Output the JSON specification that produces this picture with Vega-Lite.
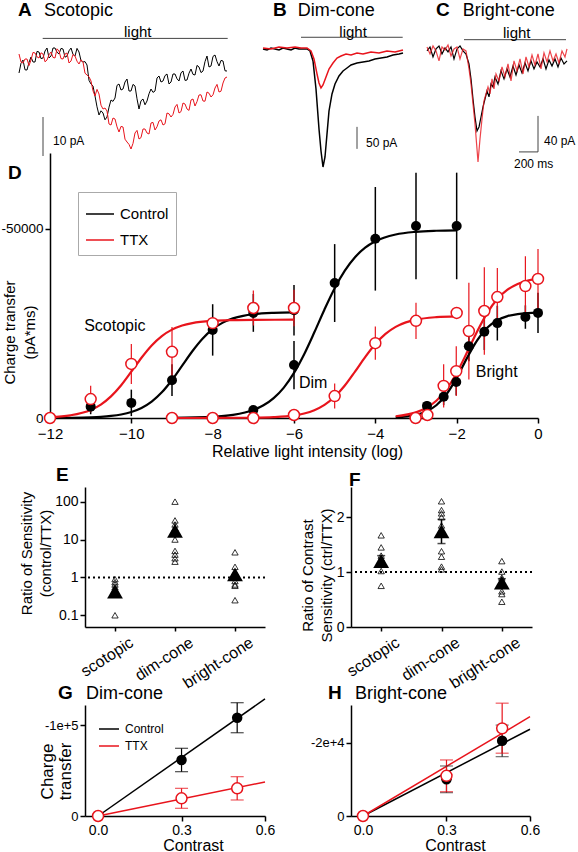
{
"$schema":"https://vega.github.io/schema/vega-lite/v6.json",
"padding":0,
"background":"white",
"config":{
 "view":{"stroke":null},
 "font":"Liberation Sans",
 "axis":{"domainColor":"black","domainWidth":1.5,"tickColor":"black","tickWidth":1.5,"tickSize":5,"labelColor":"black","titleColor":"black","labelFont":"Liberation Sans","titleFont":"Liberation Sans","titleFontWeight":"normal","grid":false,"labelFontSize":14,"titleFontSize":15,"labelFlush":false},
 "title":{"font":"Liberation Sans","fontSize":19,"fontWeight":"bold","anchor":"start","frame":"group","color":"black"},
 "legend":{"labelFont":"Liberation Sans","labelColor":"black"},
 "text":{"font":"Liberation Sans","color":"black"}
},
"datasets":{
 "trA":[
  {"c":"Control","t":-240,"i":-2.25},{"c":"Control","t":-200,"i":1},{"c":"Control","t":-160,"i":-1.5},{"c":"Control","t":-120,"i":1.75},{"c":"Control","t":-80,"i":0.5},{"c":"Control","t":-40,"i":3},{"c":"Control","t":0,"i":1.5},{"c":"Control","t":40,"i":4},{"c":"Control","t":80,"i":2},{"c":"Control","t":120,"i":4},{"c":"Control","t":160,"i":2.5},{"c":"Control","t":200,"i":3.75},{"c":"Control","t":240,"i":2},{"c":"Control","t":280,"i":4},{"c":"Control","t":320,"i":2},{"c":"Control","t":360,"i":3},{"c":"Control","t":400,"i":0.5},{"c":"Control","t":440,"i":-0.25},{"c":"Control","t":480,"i":-5},{"c":"Control","t":520,"i":-8},{"c":"Control","t":560,"i":-12.75},{"c":"Control","t":600,"i":-12.25},{"c":"Control","t":640,"i":-13.25},{"c":"Control","t":680,"i":-9},{"c":"Control","t":720,"i":-8.5},{"c":"Control","t":760,"i":-5},{"c":"Control","t":800,"i":-6.25},{"c":"Control","t":840,"i":-3.75},{"c":"Control","t":880,"i":-6.75},{"c":"Control","t":920,"i":-5.5},{"c":"Control","t":960,"i":-11.25},{"c":"Control","t":1000,"i":-8.75},{"c":"Control","t":1040,"i":-9.25},{"c":"Control","t":1080,"i":-6.25},{"c":"Control","t":1120,"i":-6.75},{"c":"Control","t":1160,"i":-3},{"c":"Control","t":1200,"i":-4.25},{"c":"Control","t":1240,"i":-2.5},{"c":"Control","t":1280,"i":-4.5},{"c":"Control","t":1320,"i":-2.5},{"c":"Control","t":1360,"i":-4.25},{"c":"Control","t":1400,"i":-1.75},{"c":"Control","t":1440,"i":-4},{"c":"Control","t":1480,"i":-1.25},{"c":"Control","t":1520,"i":-2.75},{"c":"Control","t":1560,"i":-0.75},{"c":"Control","t":1600,"i":-1.75},{"c":"Control","t":1640,"i":2},{"c":"Control","t":1680,"i":-0.5},{"c":"Control","t":1720,"i":2.25},{"c":"Control","t":1760,"i":-0.5},{"c":"Control","t":1800,"i":0.75},{"c":"Control","t":1840,"i":-1.75},
  {"c":"Control","t":-220,"i":0.2},{"c":"Control","t":-180,"i":-1.45},{"c":"Control","t":-140,"i":0.4},{"c":"Control","t":-100,"i":0.5},{"c":"Control","t":-60,"i":3.15},{"c":"Control","t":-20,"i":1.35},{"c":"Control","t":20,"i":3.25},{"c":"Control","t":60,"i":1.5},{"c":"Control","t":100,"i":4},{"c":"Control","t":140,"i":2.95},{"c":"Control","t":180,"i":3.9},{"c":"Control","t":220,"i":1.7},{"c":"Control","t":260,"i":3.3},{"c":"Control","t":300,"i":2.4},{"c":"Control","t":340,"i":3.9},{"c":"Control","t":380,"i":0.85},{"c":"Control","t":420,"i":0.6},{"c":"Control","t":460,"i":-4.1},{"c":"Control","t":500,"i":-5.5},{"c":"Control","t":540,"i":-10.7},{"c":"Control","t":580,"i":-11.7},{"c":"Control","t":620,"i":-13.95},{"c":"Control","t":660,"i":-10.8},{"c":"Control","t":700,"i":-9.35},{"c":"Control","t":740,"i":-5.35},{"c":"Control","t":780,"i":-6.5},{"c":"Control","t":820,"i":-4.5},{"c":"Control","t":860,"i":-6.75},{"c":"Control","t":900,"i":-5.1},{"c":"Control","t":940,"i":-8.7},{"c":"Control","t":980,"i":-9.2},{"c":"Control","t":1020,"i":-10.2},{"c":"Control","t":1060,"i":-7.45},{"c":"Control","t":1100,"i":-7.1},{"c":"Control","t":1140,"i":-3.5},{"c":"Control","t":1180,"i":-4.5},{"c":"Control","t":1220,"i":-2.9},{"c":"Control","t":1260,"i":-5},{"c":"Control","t":1300,"i":-2.5},{"c":"Control","t":1340,"i":-3.7},{"c":"Control","t":1380,"i":-2.2},{"c":"Control","t":1420,"i":-4.1},{"c":"Control","t":1460,"i":-2.3},{"c":"Control","t":1500,"i":-2.6},{"c":"Control","t":1540,"i":-0.35},{"c":"Control","t":1580,"i":-2.15},{"c":"Control","t":1620,"i":0.6},{"c":"Control","t":1660,"i":-0.75},{"c":"Control","t":1700,"i":1.9},{"c":"Control","t":1740,"i":0.6},{"c":"Control","t":1780,"i":0.9},{"c":"Control","t":1820,"i":-1.7},
  {"c":"TTX","t":-240,"i":2.5},{"c":"TTX","t":-200,"i":0.25},{"c":"TTX","t":-160,"i":1.25},{"c":"TTX","t":-120,"i":1},{"c":"TTX","t":-80,"i":2.75},{"c":"TTX","t":-40,"i":1.5},{"c":"TTX","t":0,"i":2.5},{"c":"TTX","t":40,"i":1},{"c":"TTX","t":80,"i":3},{"c":"TTX","t":120,"i":1.5},{"c":"TTX","t":160,"i":3.25},{"c":"TTX","t":200,"i":1.25},{"c":"TTX","t":240,"i":2.75},{"c":"TTX","t":280,"i":0.75},{"c":"TTX","t":320,"i":2},{"c":"TTX","t":360,"i":0},{"c":"TTX","t":400,"i":0.5},{"c":"TTX","t":440,"i":-2.75},{"c":"TTX","t":480,"i":-4.25},{"c":"TTX","t":520,"i":-8},{"c":"TTX","t":560,"i":-7.5},{"c":"TTX","t":600,"i":-11.25},{"c":"TTX","t":640,"i":-11.75},{"c":"TTX","t":680,"i":-15.25},{"c":"TTX","t":720,"i":-13.75},{"c":"TTX","t":760,"i":-17},{"c":"TTX","t":800,"i":-15.75},{"c":"TTX","t":840,"i":-19.5},{"c":"TTX","t":880,"i":-21.25},{"c":"TTX","t":920,"i":-17.25},{"c":"TTX","t":960,"i":-18.75},{"c":"TTX","t":1000,"i":-16.25},{"c":"TTX","t":1040,"i":-17.25},{"c":"TTX","t":1080,"i":-14.75},{"c":"TTX","t":1120,"i":-16.5},{"c":"TTX","t":1160,"i":-14.25},{"c":"TTX","t":1200,"i":-15.25},{"c":"TTX","t":1240,"i":-12.25},{"c":"TTX","t":1280,"i":-13.25},{"c":"TTX","t":1320,"i":-10.75},{"c":"TTX","t":1360,"i":-12.25},{"c":"TTX","t":1400,"i":-9.75},{"c":"TTX","t":1440,"i":-11.25},{"c":"TTX","t":1480,"i":-9},{"c":"TTX","t":1520,"i":-10.5},{"c":"TTX","t":1560,"i":-7.75},{"c":"TTX","t":1600,"i":-9.25},{"c":"TTX","t":1640,"i":-7},{"c":"TTX","t":1680,"i":-8.25},{"c":"TTX","t":1720,"i":-6},{"c":"TTX","t":1760,"i":-7},{"c":"TTX","t":1800,"i":-4.75},{"c":"TTX","t":1840,"i":-3.25},
  {"c":"TTX","t":-220,"i":0.5},{"c":"TTX","t":-180,"i":1.25},{"c":"TTX","t":-140,"i":-0.4},{"c":"TTX","t":-100,"i":2.9},{"c":"TTX","t":-60,"i":1.8},{"c":"TTX","t":-20,"i":2.8},{"c":"TTX","t":20,"i":0.55},{"c":"TTX","t":60,"i":2.3},{"c":"TTX","t":100,"i":1.65},{"c":"TTX","t":140,"i":3.8},{"c":"TTX","t":180,"i":1.35},{"c":"TTX","t":220,"i":2.5},{"c":"TTX","t":260,"i":0.25},{"c":"TTX","t":300,"i":2.4},{"c":"TTX","t":340,"i":0.7},{"c":"TTX","t":380,"i":1.05},{"c":"TTX","t":420,"i":-2.3},{"c":"TTX","t":460,"i":-3.2},{"c":"TTX","t":500,"i":-6.7},{"c":"TTX","t":540,"i":-6.35},{"c":"TTX","t":580,"i":-10.3},{"c":"TTX","t":620,"i":-11},{"c":"TTX","t":660,"i":-15},{"c":"TTX","t":700,"i":-13.5},{"c":"TTX","t":740,"i":-15.7},{"c":"TTX","t":780,"i":-15.6},{"c":"TTX","t":820,"i":-18.8},{"c":"TTX","t":860,"i":-20.1},{"c":"TTX","t":900,"i":-19.85},{"c":"TTX","t":940,"i":-16.6},{"c":"TTX","t":980,"i":-18.4},{"c":"TTX","t":1020,"i":-16.25},{"c":"TTX","t":1060,"i":-17.5},{"c":"TTX","t":1100,"i":-14.6},{"c":"TTX","t":1140,"i":-15.7},{"c":"TTX","t":1180,"i":-13.95},{"c":"TTX","t":1220,"i":-14.95},{"c":"TTX","t":1260,"i":-12.45},{"c":"TTX","t":1300,"i":-12.6},{"c":"TTX","t":1340,"i":-10.1},{"c":"TTX","t":1380,"i":-11.9},{"c":"TTX","t":1420,"i":-10},{"c":"TTX","t":1460,"i":-11.6},{"c":"TTX","t":1500,"i":-8.75},{"c":"TTX","t":1540,"i":-9.4},{"c":"TTX","t":1580,"i":-7.7},{"c":"TTX","t":1620,"i":-9.3},{"c":"TTX","t":1660,"i":-7.3},{"c":"TTX","t":1700,"i":-7.7},{"c":"TTX","t":1740,"i":-5.1},{"c":"TTX","t":1780,"i":-6.8},{"c":"TTX","t":1820,"i":-3.5}
 ],
 "trB":[
  {"c":"Control","t":-380,"i":0},{"c":"Control","t":-340,"i":-2.3},{"c":"Control","t":-300,"i":2.3},{"c":"Control","t":-260,"i":0},{"c":"Control","t":-220,"i":-2.3},{"c":"Control","t":-180,"i":2.3},{"c":"Control","t":-140,"i":0},{"c":"Control","t":-100,"i":-2.3},{"c":"Control","t":-60,"i":2.3},{"c":"Control","t":-20,"i":0},{"c":"Control","t":20,"i":0},{"c":"Control","t":60,"i":0},{"c":"Control","t":90,"i":-4.5},{"c":"Control","t":120,"i":-27.3},{"c":"Control","t":150,"i":-90.9},{"c":"Control","t":180,"i":-181.8},{"c":"Control","t":200,"i":-231.8},{"c":"Control","t":220,"i":-268.2},{"c":"Control","t":240,"i":-245.5},{"c":"Control","t":260,"i":-193.2},{"c":"Control","t":280,"i":-140.9},{"c":"Control","t":310,"i":-102.3},{"c":"Control","t":340,"i":-79.5},{"c":"Control","t":380,"i":-61.4},{"c":"Control","t":420,"i":-50},{"c":"Control","t":460,"i":-43.2},{"c":"Control","t":500,"i":-36.4},{"c":"Control","t":560,"i":-31.8},{"c":"Control","t":620,"i":-29.5},{"c":"Control","t":680,"i":-27.3},{"c":"Control","t":740,"i":-22.7},{"c":"Control","t":800,"i":-20.5},{"c":"Control","t":860,"i":-18.2},{"c":"Control","t":920,"i":-13.6},{"c":"Control","t":980,"i":-11.4},{"c":"Control","t":1020,"i":-9.1},
  {"c":"TTX","t":-380,"i":2.3},{"c":"TTX","t":-300,"i":0},{"c":"TTX","t":-220,"i":4.5},{"c":"TTX","t":-140,"i":2.3},{"c":"TTX","t":-60,"i":4.5},{"c":"TTX","t":0,"i":2.3},{"c":"TTX","t":60,"i":2.3},{"c":"TTX","t":100,"i":-4.5},{"c":"TTX","t":130,"i":-22.7},{"c":"TTX","t":160,"i":-56.8},{"c":"TTX","t":180,"i":-77.3},{"c":"TTX","t":200,"i":-88.6},{"c":"TTX","t":220,"i":-81.8},{"c":"TTX","t":250,"i":-63.6},{"c":"TTX","t":280,"i":-45.5},{"c":"TTX","t":320,"i":-31.8},{"c":"TTX","t":360,"i":-20.5},{"c":"TTX","t":400,"i":-15.9},{"c":"TTX","t":450,"i":-11.4},{"c":"TTX","t":500,"i":-13.6},{"c":"TTX","t":560,"i":-9.1},{"c":"TTX","t":620,"i":-11.4},{"c":"TTX","t":700,"i":-6.8},{"c":"TTX","t":780,"i":-9.1},{"c":"TTX","t":860,"i":-4.5},{"c":"TTX","t":940,"i":-6.8},{"c":"TTX","t":1020,"i":-2.3}
 ],
 "trC":[
  {"c":"Control","t":-370,"i":-2.2},{"c":"Control","t":-340,"i":2.2},{"c":"Control","t":-310,"i":-8.9},{"c":"Control","t":-280,"i":0},{"c":"Control","t":-250,"i":3.3},{"c":"Control","t":-220,"i":-5.6},{"c":"Control","t":-190,"i":1.1},{"c":"Control","t":-160,"i":-3.3},{"c":"Control","t":-130,"i":2.2},{"c":"Control","t":-100,"i":-11.1},{"c":"Control","t":-70,"i":0},{"c":"Control","t":-40,"i":3.3},{"c":"Control","t":-10,"i":-2.2},{"c":"Control","t":20,"i":-5.6},{"c":"Control","t":50,"i":-16.7},{"c":"Control","t":70,"i":-33.3},{"c":"Control","t":90,"i":-55.6},{"c":"Control","t":110,"i":-75.6},{"c":"Control","t":130,"i":-91.1},{"c":"Control","t":150,"i":-86.7},{"c":"Control","t":170,"i":-75.6},{"c":"Control","t":190,"i":-64.4},{"c":"Control","t":210,"i":-55.6},{"c":"Control","t":230,"i":-46.7},{"c":"Control","t":250,"i":-53.3},{"c":"Control","t":270,"i":-38.9},{"c":"Control","t":290,"i":-42.2},{"c":"Control","t":310,"i":-31.1},{"c":"Control","t":340,"i":-38.9},{"c":"Control","t":370,"i":-24.4},{"c":"Control","t":400,"i":-33.3},{"c":"Control","t":430,"i":-22.2},{"c":"Control","t":460,"i":-31.1},{"c":"Control","t":490,"i":-18.9},{"c":"Control","t":520,"i":-28.9},{"c":"Control","t":550,"i":-17.8},{"c":"Control","t":580,"i":-26.7},{"c":"Control","t":610,"i":-15.6},{"c":"Control","t":640,"i":-24.4},{"c":"Control","t":670,"i":-13.3},{"c":"Control","t":700,"i":-22.2},{"c":"Control","t":730,"i":-14.4},{"c":"Control","t":760,"i":-20},{"c":"Control","t":790,"i":-11.1},{"c":"Control","t":820,"i":-22.2},{"c":"Control","t":850,"i":-12.2},{"c":"Control","t":880,"i":-18.9},{"c":"Control","t":910,"i":-11.1},{"c":"Control","t":940,"i":-20},{"c":"Control","t":970,"i":-10},{"c":"Control","t":1000,"i":-16.7},{"c":"Control","t":1030,"i":-13.3},
  {"c":"TTX","t":-370,"i":2.2},{"c":"TTX","t":-340,"i":-5.6},{"c":"TTX","t":-310,"i":3.3},{"c":"TTX","t":-280,"i":-2.2},{"c":"TTX","t":-250,"i":-13.3},{"c":"TTX","t":-220,"i":2.2},{"c":"TTX","t":-190,"i":-1.1},{"c":"TTX","t":-160,"i":4.4},{"c":"TTX","t":-130,"i":-7.8},{"c":"TTX","t":-100,"i":0},{"c":"TTX","t":-70,"i":2.2},{"c":"TTX","t":-40,"i":-11.1},{"c":"TTX","t":-10,"i":0},{"c":"TTX","t":20,"i":-2.2},{"c":"TTX","t":50,"i":-22.2},{"c":"TTX","t":70,"i":-38.9},{"c":"TTX","t":90,"i":-61.1},{"c":"TTX","t":110,"i":-83.3},{"c":"TTX","t":130,"i":-111.1},{"c":"TTX","t":140,"i":-125.6},{"c":"TTX","t":160,"i":-100},{"c":"TTX","t":180,"i":-77.8},{"c":"TTX","t":200,"i":-57.8},{"c":"TTX","t":220,"i":-50},{"c":"TTX","t":240,"i":-42.2},{"c":"TTX","t":260,"i":-50},{"c":"TTX","t":280,"i":-33.3},{"c":"TTX","t":300,"i":-44.4},{"c":"TTX","t":320,"i":-27.8},{"c":"TTX","t":350,"i":-35.6},{"c":"TTX","t":380,"i":-20},{"c":"TTX","t":410,"i":-31.1},{"c":"TTX","t":440,"i":-16.7},{"c":"TTX","t":470,"i":-35.6},{"c":"TTX","t":500,"i":-13.3},{"c":"TTX","t":530,"i":-24.4},{"c":"TTX","t":560,"i":-11.1},{"c":"TTX","t":590,"i":-27.8},{"c":"TTX","t":620,"i":-8.9},{"c":"TTX","t":650,"i":-20},{"c":"TTX","t":680,"i":-6.7},{"c":"TTX","t":710,"i":-17.8},{"c":"TTX","t":740,"i":-5.6},{"c":"TTX","t":770,"i":-22.2},{"c":"TTX","t":800,"i":-4.4},{"c":"TTX","t":830,"i":-14.4},{"c":"TTX","t":860,"i":-2.2},{"c":"TTX","t":890,"i":-13.3},{"c":"TTX","t":920,"i":-5.6},{"c":"TTX","t":950,"i":-15.6},{"c":"TTX","t":980,"i":-2.2},{"c":"TTX","t":1010,"i":-8.9},{"c":"TTX","t":1030,"i":0}
 ],
 "bars":[
  {"p":"A","t":-3,"t2":1847,"i":6.4,"i2":6.4},{"p":"A","t":0,"t2":0,"i":-13.25,"i2":-23},
  {"p":"B","t":0,"t2":1017,"i":26.6,"i2":26.6},{"p":"B","t":560,"t2":560,"i":-177,"i2":-227},
  {"p":"C","t":0,"t2":1020,"i":10.3,"i2":10.3},{"p":"C","t":740,"t2":740,"i":-74.4,"i2":-114.4},{"p":"C","t":550,"t2":740,"i":-114.4,"i2":-114.4}
 ],
 "ann":[
  {"p":"A","k":"letter","t":-250,"i":12,"s":"A"},{"p":"A","k":"name","t":10,"i":12,"s":"Scotopic"},{"p":"A","k":"light","t":810,"i":6.75,"s":"light"},{"p":"A","k":"scale","t":100,"i":-20.25,"s":"10 pA"},
  {"p":"B","k":"letter","t":-280,"i":75,"s":"B"},{"p":"B","k":"name","t":-33,"i":75,"s":"Dim-cone"},{"p":"B","k":"light","t":383,"i":27,"s":"light"},{"p":"B","k":"scale","t":650,"i":-222.7,"s":"50 pA"},
  {"p":"C","k":"letter","t":-280,"i":36.7,"s":"C"},{"p":"C","k":"name","t":-13,"i":36.7,"s":"Bright-cone"},{"p":"C","k":"light","t":390,"i":11.9,"s":"light"},{"p":"C","k":"scale","t":800,"i":-107.2,"s":"40 pA"},{"p":"C","k":"scale","t":500,"i":-132.2,"s":"200 ms"}
 ],
 "Dcurve":[
  {"s":"SC","c":"Control","x":-12,"y":-19},{"s":"SC","c":"Control","x":-11.5,"y":-59},{"s":"SC","c":"Control","x":-11,"y":-180},{"s":"SC","c":"Control","x":-10.75,"y":-311},{"s":"SC","c":"Control","x":-10.5,"y":-540},{"s":"SC","c":"Control","x":-10.25,"y":-927},{"s":"SC","c":"Control","x":-10,"y":-1582},{"s":"SC","c":"Control","x":-9.75,"y":-2654},{"s":"SC","c":"Control","x":-9.5,"y":-4334},{"s":"SC","c":"Control","x":-9.25,"y":-6780},{"s":"SC","c":"Control","x":-9,"y":-10046},{"s":"SC","c":"Control","x":-8.75,"y":-13860},{"s":"SC","c":"Control","x":-8.5,"y":-17666},{"s":"SC","c":"Control","x":-8.25,"y":-20975},{"s":"SC","c":"Control","x":-8,"y":-23505},{"s":"SC","c":"Control","x":-7.75,"y":-25234},{"s":"SC","c":"Control","x":-7.5,"y":-26348},{"s":"SC","c":"Control","x":-7.25,"y":-27030},{"s":"SC","c":"Control","x":-7,"y":-27437},{"s":"SC","c":"Control","x":-6.5,"y":-27813},{"s":"SC","c":"Control","x":-6,"y":-27939},
  {"s":"ST","c":"TTX","x":-12,"y":-230},{"s":"ST","c":"TTX","x":-11.5,"y":-712},{"s":"ST","c":"TTX","x":-11,"y":-2130},{"s":"ST","c":"TTX","x":-10.75,"y":-3557},{"s":"ST","c":"TTX","x":-10.5,"y":-5714},{"s":"ST","c":"TTX","x":-10.25,"y":-8667},{"s":"ST","c":"TTX","x":-10,"y":-12253},{"s":"ST","c":"TTX","x":-9.75,"y":-15941},{"s":"ST","c":"TTX","x":-9.5,"y":-19188},{"s":"ST","c":"TTX","x":-9.25,"y":-21667},{"s":"ST","c":"TTX","x":-9,"y":-23381},{"s":"ST","c":"TTX","x":-8.75,"y":-24459},{"s":"ST","c":"TTX","x":-8.5,"y":-25109},{"s":"ST","c":"TTX","x":-8,"y":-25712},{"s":"ST","c":"TTX","x":-7.5,"y":-25908},{"s":"ST","c":"TTX","x":-7,"y":-25971},{"s":"ST","c":"TTX","x":-6,"y":-25997},
  {"s":"DC","c":"Control","x":-9,"y":-44},{"s":"DC","c":"Control","x":-8,"y":-312},{"s":"DC","c":"Control","x":-7.5,"y":-817},{"s":"DC","c":"Control","x":-7,"y":-2116},{"s":"DC","c":"Control","x":-6.75,"y":-3365},{"s":"DC","c":"Control","x":-6.5,"y":-5265},{"s":"DC","c":"Control","x":-6.25,"y":-8045},{"s":"DC","c":"Control","x":-6,"y":-11918},{"s":"DC","c":"Control","x":-5.75,"y":-16876},{"s":"DC","c":"Control","x":-5.5,"y":-22664},{"s":"DC","c":"Control","x":-5.25,"y":-28712},{"s":"DC","c":"Control","x":-5,"y":-34323},{"s":"DC","c":"Control","x":-4.75,"y":-38980},{"s":"DC","c":"Control","x":-4.5,"y":-42537},{"s":"DC","c":"Control","x":-4.25,"y":-45046},{"s":"DC","c":"Control","x":-4,"y":-46741},{"s":"DC","c":"Control","x":-3.5,"y":-48545},{"s":"DC","c":"Control","x":-3,"y":-49260},{"s":"DC","c":"Control","x":-2.5,"y":-49533},{"s":"DC","c":"Control","x":-2,"y":-49637},
  {"s":"DT","c":"TTX","x":-9,"y":-1},{"s":"DT","c":"TTX","x":-8,"y":-7},{"s":"DT","c":"TTX","x":-7,"y":-71},{"s":"DT","c":"TTX","x":-6.5,"y":-223},{"s":"DT","c":"TTX","x":-6,"y":-692},{"s":"DT","c":"TTX","x":-5.75,"y":-1205},{"s":"DT","c":"TTX","x":-5.5,"y":-2077},{"s":"DT","c":"TTX","x":-5.25,"y":-3479},{"s":"DT","c":"TTX","x":-5,"y":-5625},{"s":"DT","c":"TTX","x":-4.75,"y":-8599},{"s":"DT","c":"TTX","x":-4.5,"y":-12273},{"s":"DT","c":"TTX","x":-4.25,"y":-16110},{"s":"DT","c":"TTX","x":-4,"y":-19565},{"s":"DT","c":"TTX","x":-3.75,"y":-22241},{"s":"DT","c":"TTX","x":-3.5,"y":-24107},{"s":"DT","c":"TTX","x":-3.25,"y":-25290},{"s":"DT","c":"TTX","x":-3,"y":-26012},{"s":"DT","c":"TTX","x":-2.5,"y":-26680},{"s":"DT","c":"TTX","x":-2,"y":-26898},
  {"s":"BC","c":"Control","x":-3.5,"y":-192},{"s":"BC","c":"Control","x":-3,"y":-831},{"s":"BC","c":"Control","x":-2.75,"y":-1697},{"s":"BC","c":"Control","x":-2.5,"y":-3365},{"s":"BC","c":"Control","x":-2.25,"y":-6278},{"s":"BC","c":"Control","x":-2,"y":-10610},{"s":"BC","c":"Control","x":-1.75,"y":-15775},{"s":"BC","c":"Control","x":-1.5,"y":-20486},{"s":"BC","c":"Control","x":-1.25,"y":-23859},{"s":"BC","c":"Control","x":-1,"y":-25876},{"s":"BC","c":"Control","x":-0.75,"y":-26952},{"s":"BC","c":"Control","x":-0.5,"y":-27494},{"s":"BC","c":"Control","x":-0.25,"y":-27758},{"s":"BC","c":"Control","x":0,"y":-27885},
  {"s":"BT","c":"TTX","x":-3.5,"y":-458},{"s":"BT","c":"TTX","x":-3,"y":-1493},{"s":"BT","c":"TTX","x":-2.75,"y":-2641},{"s":"BT","c":"TTX","x":-2.5,"y":-4567},{"s":"BT","c":"TTX","x":-2.25,"y":-7593},{"s":"BT","c":"TTX","x":-2,"y":-11905},{"s":"BT","c":"TTX","x":-1.75,"y":-17233},{"s":"BT","c":"TTX","x":-1.5,"y":-22823},{"s":"BT","c":"TTX","x":-1.25,"y":-27758},{"s":"BT","c":"TTX","x":-1,"y":-31460},{"s":"BT","c":"TTX","x":-0.75,"y":-33946},{"s":"BT","c":"TTX","x":-0.5,"y":-35468},{"s":"BT","c":"TTX","x":-0.25,"y":-36362},{"s":"BT","c":"TTX","x":0,"y":-36870}
 ],
 "Dpts":[
  {"s":"S","c":"Control","x":-12,"y":0,"lo":0,"hi":0},{"s":"S","c":"Control","x":-11,"y":-3000,"lo":-1000,"hi":-5000},{"s":"S","c":"Control","x":-10,"y":-4000,"lo":-500,"hi":-7500},{"s":"S","c":"Control","x":-9,"y":-10000,"lo":-5800,"hi":-14200},{"s":"S","c":"Control","x":-8,"y":-23300,"lo":-16500,"hi":-30100},{"s":"S","c":"Control","x":-7,"y":-27800,"lo":-22800,"hi":-32800},{"s":"S","c":"Control","x":-6,"y":-28500,"lo":-21800,"hi":-35200},
  {"s":"S","c":"TTX","x":-12,"y":0,"lo":0,"hi":0},{"s":"S","c":"TTX","x":-11,"y":-5000,"lo":-1500,"hi":-8500},{"s":"S","c":"TTX","x":-10,"y":-14300,"lo":-9000,"hi":-19600},{"s":"S","c":"TTX","x":-9,"y":-17500,"lo":-10900,"hi":-24100},{"s":"S","c":"TTX","x":-8,"y":-25100,"lo":-25100,"hi":-25100},{"s":"S","c":"TTX","x":-7,"y":-29100,"lo":-24500,"hi":-33700},{"s":"S","c":"TTX","x":-6,"y":-29100,"lo":-24300,"hi":-33900},
  {"s":"D","c":"Control","x":-8,"y":0,"lo":0,"hi":0},{"s":"D","c":"Control","x":-7,"y":-2100,"lo":-2100,"hi":-2100},{"s":"D","c":"Control","x":-6,"y":-14000,"lo":-7600,"hi":-20400},{"s":"D","c":"Control","x":-5,"y":-35700,"lo":-25400,"hi":-46000},{"s":"D","c":"Control","x":-4,"y":-47400,"lo":-33700,"hi":-61100},{"s":"D","c":"Control","x":-3,"y":-50800,"lo":-36700,"hi":-64900},{"s":"D","c":"Control","x":-2,"y":-50800,"lo":-36700,"hi":-64900},
  {"s":"D","c":"TTX","x":-9,"y":0,"lo":0,"hi":0},{"s":"D","c":"TTX","x":-8,"y":0,"lo":0,"hi":0},{"s":"D","c":"TTX","x":-7,"y":0,"lo":0,"hi":0},{"s":"D","c":"TTX","x":-6,"y":-800,"lo":-800,"hi":-800},{"s":"D","c":"TTX","x":-5,"y":-5800,"lo":-2500,"hi":-9100},{"s":"D","c":"TTX","x":-4,"y":-19800,"lo":-15400,"hi":-24200},{"s":"D","c":"TTX","x":-3,"y":-25700,"lo":-20900,"hi":-30500},{"s":"D","c":"TTX","x":-2,"y":-27800,"lo":-27800,"hi":-27800},
  {"s":"B","c":"Control","x":-2.73,"y":-3200,"lo":-1900,"hi":-4500},{"s":"B","c":"Control","x":-2.32,"y":-5600,"lo":-3400,"hi":-7800},{"s":"B","c":"Control","x":-2.01,"y":-9500,"lo":-6000,"hi":-13000},{"s":"B","c":"Control","x":-1.7,"y":-19000,"lo":-15000,"hi":-23000},{"s":"B","c":"Control","x":-1.32,"y":-22800,"lo":-18000,"hi":-27600},{"s":"B","c":"Control","x":-1,"y":-25100,"lo":-20500,"hi":-29700},{"s":"B","c":"Control","x":-0.31,"y":-26700,"lo":-23600,"hi":-29800},{"s":"B","c":"Control","x":0,"y":-27800,"lo":-22500,"hi":-33100},
  {"s":"B","c":"TTX","x":-3.01,"y":0,"lo":0,"hi":0},{"s":"B","c":"TTX","x":-2.72,"y":-800,"lo":-800,"hi":-800},{"s":"B","c":"TTX","x":-2.32,"y":-8500,"lo":-2800,"hi":-14200},{"s":"B","c":"TTX","x":-2.01,"y":-12400,"lo":-5800,"hi":-19000},{"s":"B","c":"TTX","x":-1.7,"y":-23000,"lo":-10200,"hi":-35800},{"s":"B","c":"TTX","x":-1.32,"y":-28300,"lo":-16700,"hi":-39900},{"s":"B","c":"TTX","x":-1,"y":-32000,"lo":-24300,"hi":-39700},{"s":"B","c":"TTX","x":-0.31,"y":-34900,"lo":-27000,"hi":-42800},{"s":"B","c":"TTX","x":0,"y":-36800,"lo":-28900,"hi":-44700}
 ],
 "Dtxt":[
  {"k":"letter","x":-13.03,"y":-63200,"s":"D"},
  {"k":"lab","x":-11.16,"y":-24300,"s":"Scotopic"},{"k":"lab","x":-5.88,"y":-9260,"s":"Dim"},{"k":"lab","x":-1.53,"y":-12170,"s":"Bright"}
 ],
 "Epts":[
  {"cat":"scotopic","v":0.9},{"cat":"scotopic","v":0.75},{"cat":"scotopic","v":0.65},{"cat":"scotopic","v":0.55},{"cat":"scotopic","v":0.5},{"cat":"scotopic","v":0.45},{"cat":"scotopic","v":0.4},{"cat":"scotopic","v":0.1},
  {"cat":"dim-cone","v":100},{"cat":"dim-cone","v":32},{"cat":"dim-cone","v":25},{"cat":"dim-cone","v":20},{"cat":"dim-cone","v":15},{"cat":"dim-cone","v":10},{"cat":"dim-cone","v":5},{"cat":"dim-cone","v":4},{"cat":"dim-cone","v":3.2},{"cat":"dim-cone","v":2.6},
  {"cat":"bright-cone","v":4.6},{"cat":"bright-cone","v":1.9},{"cat":"bright-cone","v":1.4},{"cat":"bright-cone","v":1.1},{"cat":"bright-cone","v":0.8},{"cat":"bright-cone","v":0.65},{"cat":"bright-cone","v":0.6},{"cat":"bright-cone","v":0.25}
 ],
 "Emean":[
  {"cat":"scotopic","v":0.42,"lo":0.36,"hi":0.5},{"cat":"dim-cone","v":17,"lo":10.8,"hi":26},{"cat":"bright-cone","v":1.2,"lo":0.9,"hi":1.5}
 ],
 "Fpts":[
  {"cat":"scotopic","v":1.67},{"cat":"scotopic","v":1.45},{"cat":"scotopic","v":1.3},{"cat":"scotopic","v":1.25},{"cat":"scotopic","v":1.15},{"cat":"scotopic","v":1.02},{"cat":"scotopic","v":0.75},
  {"cat":"dim-cone","v":2.29},{"cat":"dim-cone","v":2.13},{"cat":"dim-cone","v":2.07},{"cat":"dim-cone","v":2.0},{"cat":"dim-cone","v":1.85},{"cat":"dim-cone","v":1.38},{"cat":"dim-cone","v":1.28},{"cat":"dim-cone","v":1.1},{"cat":"dim-cone","v":1.05},
  {"cat":"bright-cone","v":1.2},{"cat":"bright-cone","v":1.01},{"cat":"bright-cone","v":0.9},{"cat":"bright-cone","v":0.8},{"cat":"bright-cone","v":0.65},{"cat":"bright-cone","v":0.6},{"cat":"bright-cone","v":0.46}
 ],
 "Fmean":[
  {"cat":"scotopic","v":1.2,"lo":1.1,"hi":1.3},{"cat":"dim-cone","v":1.74,"lo":1.52,"hi":1.96},{"cat":"bright-cone","v":0.81,"lo":0.74,"hi":0.88}
 ],
 "Gpts":[
  {"c":"Control","x":0,"y":0,"lo":0,"hi":0},{"c":"Control","x":0.3,"y":-61500,"lo":-48700,"hi":-74400},{"c":"Control","x":0.5,"y":-108000,"lo":-91500,"hi":-124500},
  {"c":"TTX","x":0,"y":0,"lo":0,"hi":0},{"c":"TTX","x":0.3,"y":-19400,"lo":-8460,"hi":-30400},{"c":"TTX","x":0.5,"y":-30400,"lo":-17600,"hi":-43200}
 ],
 "Gfit":[
  {"c":"Control","x":0,"y":0},{"c":"Control","x":0.6,"y":-128600},{"c":"TTX","x":0,"y":0},{"c":"TTX","x":0.6,"y":-37400}
 ],
 "Hpts":[
  {"c":"Control","x":0,"y":0,"lo":0,"hi":0},{"c":"Control","x":0.3,"y":-10050,"lo":-6390,"hi":-13700},{"c":"Control","x":0.5,"y":-20600,"lo":-16250,"hi":-24900},
  {"c":"TTX","x":0,"y":0,"lo":0,"hi":0},{"c":"TTX","x":0.3,"y":-11000,"lo":-6660,"hi":-15350},{"c":"TTX","x":0.5,"y":-24000,"lo":-17200,"hi":-30900}
 ],
 "Hfit":[
  {"c":"Control","x":0,"y":0},{"c":"Control","x":0.6,"y":-23750},{"c":"TTX","x":0,"y":0},{"c":"TTX","x":0.6,"y":-27200}
 ],
 "GHtxt":[
  {"p":"G","k":"letter","x":-0.144,"y":-128600,"s":"G"},{"p":"G","k":"name","x":-0.043,"y":-128600,"s":"Dim-cone"},
  {"p":"H","k":"letter","x":-0.126,"y":-32060,"s":"H"},{"p":"H","k":"name","x":-0.029,"y":-32060,"s":"Bright-cone"}
 ]
},
"spacing":0,
"resolve":{"scale":{"color":"independent"},"legend":{"color":"independent"}},
"vconcat":[
 {"hconcat":[
  {"width":49,"height":313,"data":{"values":[{}]},"mark":{"type":"point","opacity":0},"encoding":{}},
  {"width":488,"height":265,
   "resolve":{"scale":{"x":"independent","y":"independent"}},
   "layer":[
    {"encoding":{
      "x":{"field":"x","type":"quantitative","scale":{"domain":[-12,0],"nice":false,"zero":false},"axis":{"values":[-12,-10,-8,-6,-4,-2,0],"labelFontSize":15,"labelPadding":3,"title":"Relative light intensity (log)","titleFontSize":16,"titlePadding":2,"titleX":257}},
      "y":{"field":"y","type":"quantitative","scale":{"domain":[-70100,0],"reverse":true,"nice":false,"zero":false},"axis":{"values":[0,-50000],"labelExpr":"datum.value < 0 ? '-' + abs(datum.value) : '0'","labelFontSize":13.5,"labelPadding":2,"title":["Charge transfer","(pA*ms)"],"titleFontSize":15,"titleX":-41,"titleY":179,"titleAngle":-90,"titleAlign":"center","titleBaseline":"middle","titleLineHeight":20}}
     },
     "layer":[
      {"data":{"name":"Dpts"},"transform":[{"filter":"datum.c=='Control'"}],"mark":{"type":"rule","color":"black","strokeWidth":1.5},"encoding":{"y":{"field":"lo","type":"quantitative"},"y2":{"field":"hi"}}},
      {"data":{"name":"Dpts"},"transform":[{"filter":"datum.c=='TTX'"}],"mark":{"type":"rule","color":"#e8141c","strokeWidth":1.2},"encoding":{"y":{"field":"lo","type":"quantitative"},"y2":{"field":"hi"}}},
      {"data":{"name":"Dcurve"},"mark":{"type":"line","strokeWidth":2.2,"interpolate":"monotone"},"encoding":{"color":{"field":"c","type":"nominal","scale":{"domain":["Control","TTX"],"range":["black","#e8141c"]},"legend":{"orient":"none","legendX":28,"legendY":39,"title":null,"symbolType":"stroke","symbolSize":784,"symbolStrokeWidth":1.5,"labelFontSize":15,"strokeColor":"#aaa","fillColor":"white","padding":7,"rowPadding":3,"labelOffset":5}},"detail":{"field":"s"}}},
      {"data":{"name":"Dpts"},"transform":[{"filter":"datum.c=='Control'"}],"mark":{"type":"point","shape":"circle","filled":true,"color":"black","size":100,"opacity":1}},
      {"data":{"name":"Dpts"},"transform":[{"filter":"datum.c=='TTX'"}],"mark":{"type":"point","shape":"circle","filled":true,"fill":"white","stroke":"#e8141c","strokeWidth":1.5,"size":120,"opacity":1}},
      {"data":{"name":"Dtxt"},"transform":[{"filter":"datum.k=='letter'"}],"mark":{"type":"text","fontSize":19,"fontWeight":"bold","align":"left","baseline":"alphabetic"},"encoding":{"text":{"field":"s"}}},
      {"data":{"name":"Dtxt"},"transform":[{"filter":"datum.k=='lab'"}],"mark":{"type":"text","fontSize":16,"align":"left","baseline":"middle"},"encoding":{"text":{"field":"s"}}}
     ]},
    {"encoding":{"x":{"field":"t","type":"quantitative","scale":{"domain":[70,4950],"nice":false,"zero":false},"axis":null},"y":{"field":"i","type":"quantitative","scale":{"domain":[-88.5,-22.25],"nice":false,"zero":false},"axis":null}},
     "layer":[
      {"data":{"name":"trA"},"transform":[{"filter":"datum.c=='Control'"}],"mark":{"type":"line","color":"black","strokeWidth":1}},
      {"data":{"name":"trA"},"transform":[{"filter":"datum.c=='TTX'"}],"mark":{"type":"line","color":"#e8141c","strokeWidth":1}},
      {"data":{"name":"bars"},"transform":[{"filter":"datum.p=='A'"}],"mark":{"type":"rule","color":"#444","strokeWidth":1},"encoding":{"x2":{"field":"t2"},"y2":{"field":"i2"}}},
      {"data":{"name":"ann"},"transform":[{"filter":"datum.p=='A' && datum.k=='letter'"}],"mark":{"type":"text","fontSize":19,"fontWeight":"bold","align":"left","baseline":"alphabetic"},"encoding":{"text":{"field":"s"}}},
      {"data":{"name":"ann"},"transform":[{"filter":"datum.p=='A' && datum.k=='name'"}],"mark":{"type":"text","fontSize":18,"align":"left","baseline":"alphabetic"},"encoding":{"text":{"field":"s"}}},
      {"data":{"name":"ann"},"transform":[{"filter":"datum.p=='A' && datum.k=='light'"}],"mark":{"type":"text","fontSize":15,"align":"left","baseline":"alphabetic"},"encoding":{"text":{"field":"s"}}},
      {"data":{"name":"ann"},"transform":[{"filter":"datum.p=='A' && datum.k=='scale'"}],"mark":{"type":"text","fontSize":12,"align":"left","baseline":"alphabetic"},"encoding":{"text":{"field":"s"}}}
     ]},
    {"encoding":{"x":{"field":"t","type":"quantitative","scale":{"domain":[-2510,2370],"nice":false,"zero":false},"axis":null},"y":{"field":"i","type":"quantitative","scale":{"domain":[-838.6,-236.4],"nice":false,"zero":false},"axis":null}},
     "layer":[
      {"data":{"name":"trB"},"transform":[{"filter":"datum.c=='Control'"}],"mark":{"type":"line","color":"black","strokeWidth":1.5}},
      {"data":{"name":"trB"},"transform":[{"filter":"datum.c=='TTX'"}],"mark":{"type":"line","color":"#e8141c","strokeWidth":1.5}},
      {"data":{"name":"bars"},"transform":[{"filter":"datum.p=='B'"}],"mark":{"type":"rule","color":"#444","strokeWidth":1},"encoding":{"x2":{"field":"t2"},"y2":{"field":"i2"}}},
      {"data":{"name":"ann"},"transform":[{"filter":"datum.p=='B' && datum.k=='letter'"}],"mark":{"type":"text","fontSize":19,"fontWeight":"bold","align":"left","baseline":"alphabetic"},"encoding":{"text":{"field":"s"}}},
      {"data":{"name":"ann"},"transform":[{"filter":"datum.p=='B' && datum.k=='name'"}],"mark":{"type":"text","fontSize":18,"align":"left","baseline":"alphabetic"},"encoding":{"text":{"field":"s"}}},
      {"data":{"name":"ann"},"transform":[{"filter":"datum.p=='B' && datum.k=='light'"}],"mark":{"type":"text","fontSize":15,"align":"left","baseline":"alphabetic"},"encoding":{"text":{"field":"s"}}},
      {"data":{"name":"ann"},"transform":[{"filter":"datum.p=='B' && datum.k=='scale'"}],"mark":{"type":"text","fontSize":12,"align":"left","baseline":"alphabetic"},"encoding":{"text":{"field":"s"}}}
     ]},
    {"encoding":{"x":{"field":"t","type":"quantitative","scale":{"domain":[-4140,740],"nice":false,"zero":false},"axis":null},"y":{"field":"i","type":"quantitative","scale":{"domain":[-410,-115.6],"nice":false,"zero":false},"axis":null}},
     "layer":[
      {"data":{"name":"trC"},"transform":[{"filter":"datum.c=='Control'"}],"mark":{"type":"line","color":"black","strokeWidth":1.2}},
      {"data":{"name":"trC"},"transform":[{"filter":"datum.c=='TTX'"}],"mark":{"type":"line","color":"#e8141c","strokeWidth":1.2,"opacity":0.8}},
      {"data":{"name":"bars"},"transform":[{"filter":"datum.p=='C'"}],"mark":{"type":"rule","color":"#444","strokeWidth":1},"encoding":{"x2":{"field":"t2"},"y2":{"field":"i2"}}},
      {"data":{"name":"ann"},"transform":[{"filter":"datum.p=='C' && datum.k=='letter'"}],"mark":{"type":"text","fontSize":19,"fontWeight":"bold","align":"left","baseline":"alphabetic"},"encoding":{"text":{"field":"s"}}},
      {"data":{"name":"ann"},"transform":[{"filter":"datum.p=='C' && datum.k=='name'"}],"mark":{"type":"text","fontSize":18,"align":"left","baseline":"alphabetic"},"encoding":{"text":{"field":"s"}}},
      {"data":{"name":"ann"},"transform":[{"filter":"datum.p=='C' && datum.k=='light'"}],"mark":{"type":"text","fontSize":15,"align":"left","baseline":"alphabetic"},"encoding":{"text":{"field":"s"}}},
      {"data":{"name":"ann"},"transform":[{"filter":"datum.p=='C' && datum.k=='scale'"}],"mark":{"type":"text","fontSize":12,"align":"left","baseline":"alphabetic"},"encoding":{"text":{"field":"s"}}}
     ]}
   ]}
 ],"spacing":0,"bounds":"flush","resolve":{"scale":{"color":"independent"},"legend":{"color":"independent"}}},
 {"concat":[
  {"width":84,"height":218,"data":{"values":[{}]},"mark":{"type":"point","opacity":0},"encoding":{}},
  {"width":180,"height":140,
   "title":{"text":"E","dx":-29,"offset":2},
   "layer":[
    {"data":{"values":[{"ref":1}]},"mark":{"type":"rule","strokeDash":[2,3],"strokeWidth":2,"color":"black"},"encoding":{"y":{"field":"ref","type":"quantitative"}}},
    {"data":{"name":"Epts"},"mark":{"type":"point","shape":"triangle-up","size":40,"stroke":"black","strokeWidth":0.8,"filled":false,"opacity":1},
     "encoding":{
      "x":{"field":"cat","type":"nominal","scale":{"type":"point","domain":["scotopic","dim-cone","bright-cone"],"padding":0.5},"axis":{"title":null,"tickSize":4,"labelAngle":-33,"labelAlign":"right","labelBaseline":"top","labelFontSize":16,"labelPadding":3,"labelOffset":12}},
      "y":{"field":"v","type":"quantitative","scale":{"type":"log","domain":[0.049,244],"nice":false},"axis":{"values":[0.1,1,10,100],"format":"~g","labelFontSize":14,"title":["Ratio of Sensitivity","(control/TTX)"],"titleFontSize":15,"titleX":-59,"titleY":66,"titleAngle":-90,"titleAlign":"center","titleBaseline":"middle","titleLineHeight":19}}}},
    {"data":{"name":"Emean"},"mark":{"type":"rule","color":"black","strokeWidth":1.5},"encoding":{"x":{"field":"cat","type":"nominal"},"y":{"field":"lo","type":"quantitative"},"y2":{"field":"hi"}}},
    {"data":{"name":"Emean"},"mark":{"type":"point","shape":"triangle-up","size":250,"filled":true,"color":"black","opacity":1},"encoding":{"x":{"field":"cat","type":"nominal"},"y":{"field":"v","type":"quantitative"}}}
   ]},
  {"width":86,"height":140,"data":{"values":[{}]},"mark":{"type":"point","opacity":0},"encoding":{}},
  {"width":181,"height":140,
   "title":{"text":"F","dx":-2,"offset":-3},
   "layer":[
    {"data":{"values":[{"ref":1}]},"mark":{"type":"rule","strokeDash":[2,3],"strokeWidth":2,"color":"black"},"encoding":{"y":{"field":"ref","type":"quantitative"}}},
    {"data":{"name":"Fpts"},"mark":{"type":"point","shape":"triangle-up","size":40,"stroke":"black","strokeWidth":0.8,"filled":false,"opacity":1},
     "encoding":{
      "x":{"field":"cat","type":"nominal","scale":{"type":"point","domain":["scotopic","dim-cone","bright-cone"],"padding":0.5},"axis":{"title":null,"tickSize":4,"labelAngle":-33,"labelAlign":"right","labelBaseline":"top","labelFontSize":16,"labelPadding":3,"labelOffset":12}},
      "y":{"field":"v","type":"quantitative","scale":{"domain":[0,2.55],"nice":false,"zero":false},"axis":{"values":[0,0.5,1,1.5,2],"labelExpr":"datum.value == 0 || datum.value == 1 || datum.value == 2 ? '' + datum.value : ''","labelFontSize":14,"title":["Ratio of  Contrast","Sensitivity (ctrl/TTX)"],"titleFontSize":15,"titleX":-44,"titleY":88,"titleAngle":-90,"titleAlign":"center","titleBaseline":"middle","titleLineHeight":19}}}},
    {"data":{"name":"Fmean"},"mark":{"type":"rule","color":"black","strokeWidth":1.5},"encoding":{"x":{"field":"cat","type":"nominal"},"y":{"field":"lo","type":"quantitative"},"y2":{"field":"hi"}}},
    {"data":{"name":"Fmean"},"transform":[{"fold":["lo","hi"],"as":["which","yv"]}],"mark":{"type":"tick","orient":"horizontal","size":8,"thickness":1.5,"color":"black"},"encoding":{"x":{"field":"cat","type":"nominal"},"y":{"field":"yv","type":"quantitative"}}},
    {"data":{"name":"Fmean"},"mark":{"type":"point","shape":"triangle-up","size":250,"filled":true,"color":"black","opacity":1},"encoding":{"x":{"field":"cat","type":"nominal"},"y":{"field":"v","type":"quantitative"}}}
   ]},
  {"width":84,"height":111,"data":{"values":[{}]},"mark":{"type":"point","opacity":0},"encoding":{}},
  {"width":180,"height":111,
   "encoding":{
    "x":{"field":"x","type":"quantitative","scale":{"domain":[-0.047,0.6],"nice":false,"zero":false},"axis":{"values":[0,0.3,0.6],"format":".1f","labelFontSize":14,"title":"Contrast","titleFontSize":16,"titlePadding":0,"titleX":108}},
    "y":{"field":"y","type":"quantitative","scale":{"domain":[-121978,0],"reverse":true,"nice":false,"zero":false},"axis":{"values":[0,-100000],"labelExpr":"datum.value == 0 ? '0' : '-1e+5'","labelFontSize":13,"title":["Charge","transfer"],"titleFontSize":17,"titleX":-38,"titleY":66,"titleAngle":-90,"titleAlign":"center","titleBaseline":"middle","titleLineHeight":18}}
   },
   "layer":[
    {"data":{"name":"Gfit"},"mark":{"type":"line","strokeWidth":1.5},"encoding":{"color":{"field":"c","type":"nominal","scale":{"domain":["Control","TTX"],"range":["black","#e8141c"]},"legend":{"orient":"none","legendX":13,"legendY":13,"title":null,"symbolType":"stroke","symbolSize":400,"symbolStrokeWidth":1.5,"labelFontSize":12,"rowPadding":0,"padding":0,"labelOffset":5}}}},
    {"data":{"name":"Gpts"},"transform":[{"filter":"datum.c=='Control'"}],"mark":{"type":"rule","color":"black","strokeWidth":1.2},"encoding":{"y":{"field":"lo","type":"quantitative"},"y2":{"field":"hi"}}},
    {"data":{"name":"Gpts"},"transform":[{"filter":"datum.c=='TTX'"}],"mark":{"type":"rule","color":"#e8141c","strokeWidth":1.2},"encoding":{"y":{"field":"lo","type":"quantitative"},"y2":{"field":"hi"}}},
    {"data":{"name":"Gpts"},"transform":[{"filter":"datum.c=='Control' && datum.x > 0"},{"fold":["lo","hi"],"as":["which","yv"]}],"mark":{"type":"tick","orient":"horizontal","size":13,"thickness":1.2,"color":"black"},"encoding":{"y":{"field":"yv","type":"quantitative"}}},
    {"data":{"name":"Gpts"},"transform":[{"filter":"datum.c=='TTX' && datum.x > 0"},{"fold":["lo","hi"],"as":["which","yv"]}],"mark":{"type":"tick","orient":"horizontal","size":13,"thickness":1.2,"color":"#e8141c"},"encoding":{"y":{"field":"yv","type":"quantitative"}}},
    {"data":{"name":"Gpts"},"transform":[{"filter":"datum.c=='Control'"}],"mark":{"type":"point","shape":"circle","filled":true,"color":"black","size":110,"opacity":1}},
    {"data":{"name":"Gpts"},"transform":[{"filter":"datum.c=='TTX'"}],"mark":{"type":"point","shape":"circle","filled":true,"fill":"white","stroke":"#e8141c","strokeWidth":1.5,"size":120,"opacity":1}},
    {"data":{"name":"GHtxt"},"transform":[{"filter":"datum.p=='G' && datum.k=='letter'"}],"mark":{"type":"text","fontSize":19,"fontWeight":"bold","align":"left","baseline":"alphabetic"},"encoding":{"text":{"field":"s"}}},
    {"data":{"name":"GHtxt"},"transform":[{"filter":"datum.p=='G' && datum.k=='name'"}],"mark":{"type":"text","fontSize":18,"align":"left","baseline":"alphabetic"},"encoding":{"text":{"field":"s"}}}
   ]},
  {"width":86,"height":111,"data":{"values":[{}]},"mark":{"type":"point","opacity":0},"encoding":{}},
  {"width":179,"height":111,
   "encoding":{
    "x":{"field":"x","type":"quantitative","scale":{"domain":[-0.043,0.6],"nice":false,"zero":false},"axis":{"values":[0,0.3,0.6],"format":".1f","labelFontSize":14,"title":"Contrast","titleFontSize":16,"titlePadding":0,"titleX":104}},
    "y":{"field":"y","type":"quantitative","scale":{"domain":[-30400,0],"reverse":true,"nice":false,"zero":false},"axis":{"values":[0,-20000],"labelExpr":"datum.value == 0 ? '0' : '-2e+4'","labelFontSize":13,"title":null}}
   },
   "layer":[
    {"data":{"name":"Hfit"},"transform":[{"filter":"datum.c=='Control'"}],"mark":{"type":"line","strokeWidth":1.5,"color":"black"}},
    {"data":{"name":"Hfit"},"transform":[{"filter":"datum.c=='TTX'"}],"mark":{"type":"line","strokeWidth":1.5,"color":"#e8141c"}},
    {"data":{"name":"Hpts"},"transform":[{"filter":"datum.c=='Control'"}],"mark":{"type":"rule","color":"#333","strokeWidth":1.2},"encoding":{"y":{"field":"lo","type":"quantitative"},"y2":{"field":"hi"}}},
    {"data":{"name":"Hpts"},"transform":[{"filter":"datum.c=='TTX'"}],"mark":{"type":"rule","color":"#e8141c","strokeWidth":1.2},"encoding":{"y":{"field":"lo","type":"quantitative"},"y2":{"field":"hi"}}},
    {"data":{"name":"Hpts"},"transform":[{"filter":"datum.c=='Control' && datum.x > 0"},{"fold":["lo","hi"],"as":["which","yv"]}],"mark":{"type":"tick","orient":"horizontal","size":13,"thickness":1.2,"color":"#333"},"encoding":{"y":{"field":"yv","type":"quantitative"}}},
    {"data":{"name":"Hpts"},"transform":[{"filter":"datum.c=='TTX' && datum.x > 0"},{"fold":["lo","hi"],"as":["which","yv"]}],"mark":{"type":"tick","orient":"horizontal","size":13,"thickness":1.2,"color":"#e8141c"},"encoding":{"y":{"field":"yv","type":"quantitative"}}},
    {"data":{"name":"Hpts"},"transform":[{"filter":"datum.c=='Control'"}],"mark":{"type":"point","shape":"circle","filled":true,"color":"black","size":110,"opacity":1}},
    {"data":{"name":"Hpts"},"transform":[{"filter":"datum.c=='TTX'"}],"mark":{"type":"point","shape":"circle","filled":true,"fill":"white","stroke":"#e8141c","strokeWidth":1.5,"size":120,"opacity":1}},
    {"data":{"name":"GHtxt"},"transform":[{"filter":"datum.p=='H' && datum.k=='letter'"}],"mark":{"type":"text","fontSize":19,"fontWeight":"bold","align":"left","baseline":"alphabetic"},"encoding":{"text":{"field":"s"}}},
    {"data":{"name":"GHtxt"},"transform":[{"filter":"datum.p=='H' && datum.k=='name'"}],"mark":{"type":"text","fontSize":18,"align":"left","baseline":"alphabetic"},"encoding":{"text":{"field":"s"}}}
   ]}
 ],"columns":4,"spacing":0,"bounds":"flush","align":"each","resolve":{"scale":{"color":"independent"},"legend":{"color":"independent"}}}
]
}
